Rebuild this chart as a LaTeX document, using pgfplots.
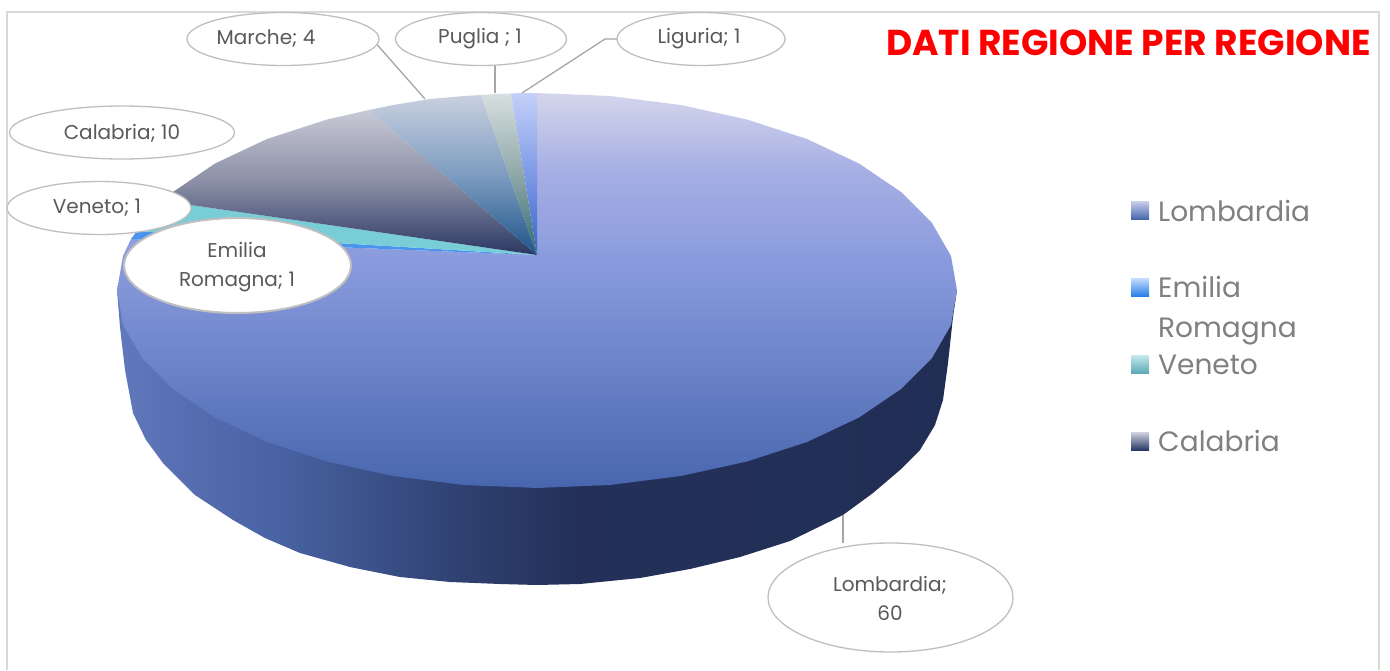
\documentclass[border=0pt]{standalone}
\usepackage{pgfplots}
\pgfplotsset{compat=1.18}
\usepackage{fontspec}
\setmainfont{Poppins}
\definecolor{lab}{HTML}{595959}
\definecolor{leg}{HTML}{808080}
\definecolor{ring}{HTML}{BFBFBF}
\pgfdeclareverticalshading{lombs}{100bp}{
 rgb(0bp)=(0.282,0.400,0.682);rgb(25bp)=(0.282,0.400,0.682);rgb(40bp)=(0.416,0.510,0.784);rgb(55bp)=(0.549,0.616,0.871);rgb(65bp)=(0.651,0.682,0.894);rgb(75bp)=(0.831,0.839,0.925);rgb(100bp)=(0.831,0.839,0.925)}
\pgfdeclareverticalshading{cala}{100bp}{
 rgb(0bp)=(0.165,0.216,0.388);rgb(25bp)=(0.165,0.216,0.388);rgb(50bp)=(0.541,0.557,0.647);rgb(75bp)=(0.788,0.792,0.839);rgb(100bp)=(0.788,0.792,0.839)}
\pgfdeclareverticalshading{marc}{100bp}{
 rgb(0bp)=(0.122,0.329,0.533);rgb(25bp)=(0.122,0.329,0.533);rgb(50bp)=(0.490,0.612,0.753);rgb(75bp)=(0.788,0.816,0.878);rgb(100bp)=(0.788,0.816,0.878)}
\pgfdeclareverticalshading{pugl}{100bp}{
 rgb(0bp)=(0.184,0.416,0.439);rgb(25bp)=(0.184,0.416,0.439);rgb(50bp)=(0.561,0.659,0.659);rgb(75bp)=(0.847,0.875,0.878);rgb(100bp)=(0.847,0.875,0.878)}
\pgfdeclareverticalshading{ligu}{100bp}{
 rgb(0bp)=(0.227,0.384,0.784);rgb(25bp)=(0.227,0.384,0.784);rgb(50bp)=(0.494,0.604,0.902);rgb(75bp)=(0.769,0.816,0.973);rgb(100bp)=(0.769,0.816,0.973)}
\pgfdeclarehorizontalshading{wall}{100bp}{
 rgb(0bp)=(0.38,0.47,0.74);rgb(25bp)=(0.38,0.47,0.74);rgb(35bp)=(0.28,0.38,0.63);rgb(45bp)=(0.19,0.26,0.45);rgb(52bp)=(0.14,0.19,0.35);rgb(75bp)=(0.13,0.18,0.33);rgb(100bp)=(0.13,0.18,0.33)}
\pgfdeclareverticalshading{sw1}{100bp}{rgb(0bp)=(0.282,0.400,0.682);rgb(25bp)=(0.282,0.400,0.682);rgb(75bp)=(0.80,0.82,0.93);rgb(100bp)=(0.80,0.82,0.93)}
\pgfdeclareverticalshading{sw2}{100bp}{rgb(0bp)=(0.15,0.50,0.90);rgb(25bp)=(0.15,0.50,0.90);rgb(75bp)=(0.78,0.87,1);rgb(100bp)=(0.78,0.87,1)}
\pgfdeclareverticalshading{sw3}{100bp}{rgb(0bp)=(0.36,0.67,0.72);rgb(25bp)=(0.36,0.67,0.72);rgb(75bp)=(0.78,0.91,0.93);rgb(100bp)=(0.78,0.91,0.93)}
\pgfdeclareverticalshading{sw4}{100bp}{rgb(0bp)=(0.16,0.22,0.40);rgb(25bp)=(0.16,0.22,0.40);rgb(75bp)=(0.82,0.83,0.88);rgb(100bp)=(0.82,0.83,0.88)}
\begin{document}
\begin{tikzpicture}
\begin{axis}[
  width=1390pt,height=670pt,scale only axis,
  xmin=0,xmax=1390,ymin=0,ymax=670,y dir=reverse,
  hide axis,no markers,clip=true,
  every axis plot/.append style={forget plot}]
% page
\addplot[fill=white,draw=none] coordinates {(0,0)(1390,0)(1390,670)(0,670)};
\addplot[draw=black!15,line width=1.5pt] coordinates {(7,670)(7,12)(1379,12)(1379,670)};
% side wall
\addplot[draw=none,shading=wall] coordinates {(117,290)(120,327)(125,370)(133,413)(146,440)(163,463)(195,495)(233,520)(265,538)(300,553)(350,567)(400,577)(450,582)(500,584)(537,585)(580,584)(640,578)(690,569)(740,557)(790,541)(843,515)(873,493)(900,470)(920,450)(935,425)(943,400)(948,363)(953,317)(957,290)};
% top: Lombardia 60
\addplot[draw=none,shading=lombs] coordinates {(537,255)(537,93)(610,96)(681,105)(747,119.5)(807,139)(859,163.5)(901,192)(932,223)(951,256)(957,290.5)(951,325)(932,358)(901,389)(859,417.5)(807,442)(747,461.5)(681,476)(610,485)(537,488)(464,485)(393,476)(327,461.5)(267,442)(215,417.5)(173,389)(142,358)(123,325)(117,290.5)(123,256)(131,239)};
% Emilia Romagna 1
\addplot[draw=none,fill={rgb,255:red,74;green,148;blue,238}] coordinates {(537,255)(131,239)(137,231)};
% Veneto 1
\addplot[draw=none,fill={rgb,255:red,120;green,205;blue,215}] coordinates {(537,255)(137,231)(148,216)(163,201)};
% Calabria 10
\addplot[draw=none,shading=cala] coordinates {(537,255)(163,201)(173,192)(215,163.5)(267,139)(327,119.5)(369,110)};
% Marche 4
\addplot[draw=none,shading=marc] coordinates {(537,255)(369,110)(393,105)(430,99)(464,96)(481,95)};
% Puglia 1
\addplot[draw=none,shading=pugl] coordinates {(537,255)(481,95)(496,94)(511,93.5)};
% Liguria 1
\addplot[draw=none,shading=ligu] coordinates {(537,255)(511,93.5)(524,93)(537,93)};
% legend swatches
\addplot[draw=none,shading=sw1] coordinates {(1131,201)(1149,201)(1149,219)(1131,219)};
\addplot[draw=none,shading=sw2] coordinates {(1131,278)(1149,278)(1149,296)(1131,296)};
\addplot[draw=none,shading=sw3] coordinates {(1131,355)(1149,355)(1149,373)(1131,373)};
\addplot[draw=none,shading=sw4] coordinates {(1131,432)(1149,432)(1149,450)(1131,450)};
% leader lines
\addplot[draw=black!35,line width=1.3pt] coordinates {(362,40)(373,40)(425,99)};
\addplot[draw=black!35,line width=1.3pt] coordinates {(495,65)(495,93)};
\addplot[draw=black!35,line width=1.3pt] coordinates {(617,39)(605,39)(522,93)};
\addplot[draw=black!35,line width=1.3pt] coordinates {(843,515)(843,543)};
% bubbles
\tikzset{bub/.style={draw=ring,fill=white,line width=1.3pt}}
\draw[bub] (axis cs:283,39) ellipse [x radius=96pt,y radius=26.5pt];
\draw[bub] (axis cs:481,39) ellipse [x radius=85.5pt,y radius=26.5pt];
\draw[bub] (axis cs:701,39) ellipse [x radius=84pt,y radius=26.5pt];
\draw[bub] (axis cs:122,132.5) ellipse [x radius=112.5pt,y radius=26.5pt];
\draw[bub] (axis cs:99,208) ellipse [x radius=92pt,y radius=26.5pt];
\draw[bub,line width=2pt] (axis cs:237.5,265.5) ellipse [x radius=113.5pt,y radius=47.5pt];
\draw[bub] (axis cs:890.5,597.5) ellipse [x radius=122.5pt,y radius=54.5pt];
\tikzset{lb/.style={text=lab,font=\fontsize{20}{29}\selectfont,align=center,inner sep=0pt}}
\node[lb] at (axis cs:266,39) {Marche; 4};
\node[lb] at (axis cs:480,39) {Puglia ; 1};
\node[lb] at (axis cs:699,39) {Liguria; 1};
\node[lb] at (axis cs:122,133) {Calabria; 10};
\node[lb] at (axis cs:97,208) {Veneto; 1};
\node[lb] at (axis cs:237,267) {Emilia\\Romagna; 1};
\node[lb] at (axis cs:890,598) {Lombardia;\\60};
\tikzset{lg/.style={text=leg,font=\fontsize{28}{32}\selectfont,anchor=base west,inner sep=0pt}}
\node[lg] at (axis cs:1158,221) {Lombardia};
\node[lg] at (axis cs:1158,297) {Emilia};
\node[lg] at (axis cs:1158,337) {Romagna};
\node[lg] at (axis cs:1158,374) {Veneto};
\node[lg] at (axis cs:1158,451) {Calabria};
\node[text=red,anchor=base east,inner sep=0pt,font=\bfseries\fontsize{36}{40}\selectfont] at (axis cs:1371,55) {DATI REGIONE PER REGIONE};
\end{axis}
\end{tikzpicture}
\end{document}
